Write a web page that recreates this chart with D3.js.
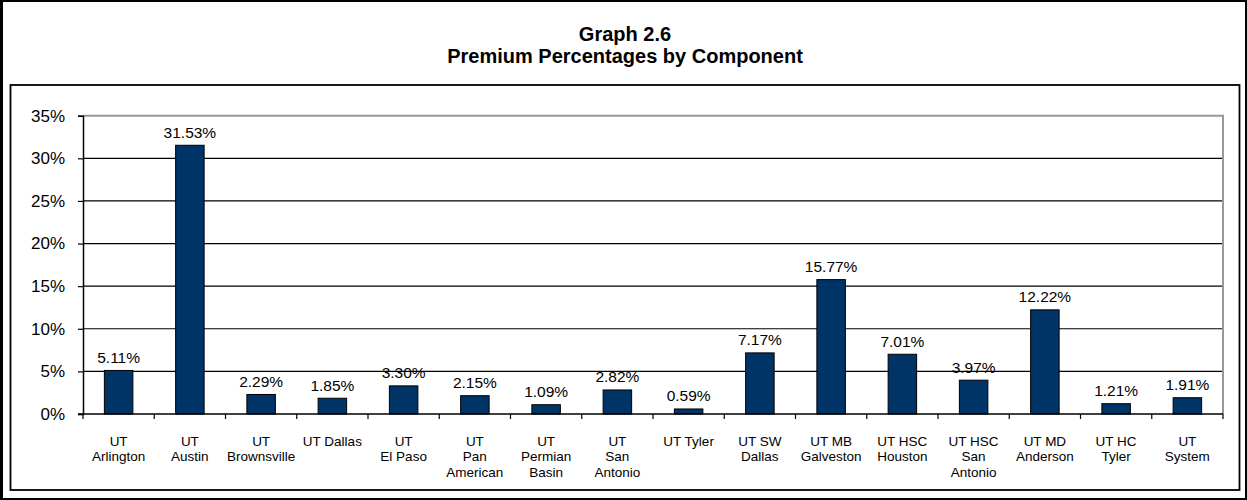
<!DOCTYPE html>
<html>
<head>
<meta charset="utf-8">
<script src="https://cdn.jsdelivr.net/npm/d3@7"></script>
<style>
  body { margin: 0; background: #fff; }
  svg { display: block; font-family: Arial, "Liberation Sans", sans-serif; }
</style>
</head>
<body>
<div id="chart"></div>
<script>
// components and their premium percentages
const components = ["UT Arlington", "UT Austin", "UT Brownsville", "UT Dallas", "UT El Paso",
  "UT Pan American", "UT Permian Basin", "UT San Antonio", "UT Tyler", "UT SW Dallas",
  "UT MB Galveston", "UT HSC Houston", "UT HSC San Antonio", "UT MD Anderson", "UT HC Tyler", "UT System"];
const premiums = [5.11, 31.53, 2.29, 1.85, 3.30, 2.15, 1.09, 2.82, 0.59, 7.17, 15.77, 7.01, 3.97, 12.22, 1.21, 1.91];
// how the category labels wrap
const labelLines = [["UT", "Arlington"], ["UT", "Austin"], ["UT", "Brownsville"], ["UT Dallas"], ["UT", "El Paso"],
  ["UT", "Pan", "American"], ["UT", "Permian", "Basin"], ["UT", "San", "Antonio"], ["UT Tyler"], ["UT SW", "Dallas"],
  ["UT MB", "Galveston"], ["UT HSC", "Houston"], ["UT HSC", "San", "Antonio"], ["UT MD", "Anderson"], ["UT HC", "Tyler"], ["UT", "System"]];
const yTicks = [0, 5, 10, 15, 20, 25, 30, 35];
const titleLines = ["Graph 2.6", "Premium Percentages by Component"];

const W = 1247, H = 500;
const plot = { left: 83, right: 1223, top: 115.7, bottom: 414 };

const svg = d3.select("#chart").append("svg")
  .attr("width", W)
  .attr("height", H);

// outer frame
svg.append("rect")
  .attr("x", 1.5).attr("y", 1).attr("width", W - 2.5).attr("height", H - 2)
  .attr("fill", "none").attr("stroke", "#000").attr("stroke-width", 2);
svg.append("line")
  .attr("x1", 1.5).attr("x2", 1.5).attr("y1", 0).attr("y2", H)
  .attr("stroke", "#000").attr("stroke-width", 3);

// title
svg.append("g").selectAll("text")
  .data(titleLines)
  .enter().append("text")
  .attr("x", 625)
  .attr("y", (d, i) => 41 + i * 22)
  .attr("text-anchor", "middle")
  .attr("font-size", 20)
  .attr("font-weight", "bold")
  .text(d => d);

// inner chart box
svg.append("rect")
  .attr("x", 10.5).attr("y", 85).attr("width", 1229).attr("height", 405)
  .attr("fill", "none").attr("stroke", "#000").attr("stroke-width", 1.8);

let x = d3.scaleBand()
  .domain(components)
  .range([plot.left, plot.right])
  .paddingInner(0.6)
  .paddingOuter(0.3);

let y = d3.scaleLinear()
  .domain([0, 35])
  .range([plot.bottom, plot.top]);

const gap = x.step() - x.bandwidth();

// gridlines
svg.append("g").selectAll("line")
  .data(yTicks.filter(d => d > 0 && d < 35))
  .enter().append("line")
  .attr("x1", plot.left).attr("x2", plot.right)
  .attr("y1", d => y(d)).attr("y2", d => y(d))
  .attr("stroke", "#000").attr("stroke-width", 1.2);

// plot area border (top and right, grey)
svg.append("path")
  .attr("d", "M" + plot.left + "," + y(35) + "H" + plot.right + "V" + y(0))
  .attr("fill", "none")
  .attr("stroke", "#999")
  .attr("stroke-width", 2);

// bars
svg.append("g").selectAll("rect")
  .data(premiums)
  .enter().append("rect")
  .attr("x", (d, i) => x(components[i]))
  .attr("y", d => y(d))
  .attr("width", x.bandwidth())
  .attr("height", d => y(0) - y(d))
  .attr("fill", "#003366")
  .attr("stroke", "#000")
  .attr("stroke-width", 1);

// value labels
svg.append("g").selectAll("text")
  .data(premiums)
  .enter().append("text")
  .attr("x", (d, i) => x(components[i]) + x.bandwidth() / 2)
  .attr("y", d => y(d) - 7.5)
  .attr("text-anchor", "middle")
  .attr("font-size", 15.5)
  .attr("fill", "#000")
  .text(d => d.toFixed(2) + "%");

// y axis
let yAxis = svg.append("g")
  .attr("transform", "translate(" + plot.left + ",0)")
  .call(d3.axisLeft(y).tickValues(yTicks).tickSize(5).tickPadding(13).tickFormat(d => d + "%"));
yAxis.select(".domain").attr("stroke", "#000").attr("stroke-width", 1.5);
yAxis.selectAll(".tick line").attr("stroke", "#000").attr("stroke-width", 1.2);
yAxis.selectAll("text")
  .attr("font-size", 17)
  .attr("font-family", "Arial, 'Liberation Sans', sans-serif")
  .attr("fill", "#000");

// x axis line and category boundary ticks
svg.append("line")
  .attr("x1", plot.left - 5).attr("x2", plot.right)
  .attr("y1", y(0)).attr("y2", y(0))
  .attr("stroke", "#000").attr("stroke-width", 1.5);

const boundaries = components.map(c => x(c) - gap / 2).concat([plot.right]);
svg.append("g").selectAll("line")
  .data(boundaries)
  .enter().append("line")
  .attr("x1", d => d).attr("x2", d => d)
  .attr("y1", y(0)).attr("y2", y(0) + 5)
  .attr("stroke", "#000").attr("stroke-width", 1.2);

// category labels
let labels = svg.append("g").selectAll("text")
  .data(components)
  .enter().append("text")
  .attr("x", d => x(d) + x.bandwidth() / 2)
  .attr("y", 445.5)
  .attr("text-anchor", "middle")
  .attr("font-size", 13.5)
  .attr("fill", "#000");

labels.selectAll("tspan")
  .data((d, i) => labelLines[i])
  .enter().append("tspan")
  .attr("x", function() { return this.parentNode.getAttribute("x"); })
  .attr("dy", (d, i) => i === 0 ? 0 : 15.5)
  .text(d => d);
</script>
</body>
</html>
